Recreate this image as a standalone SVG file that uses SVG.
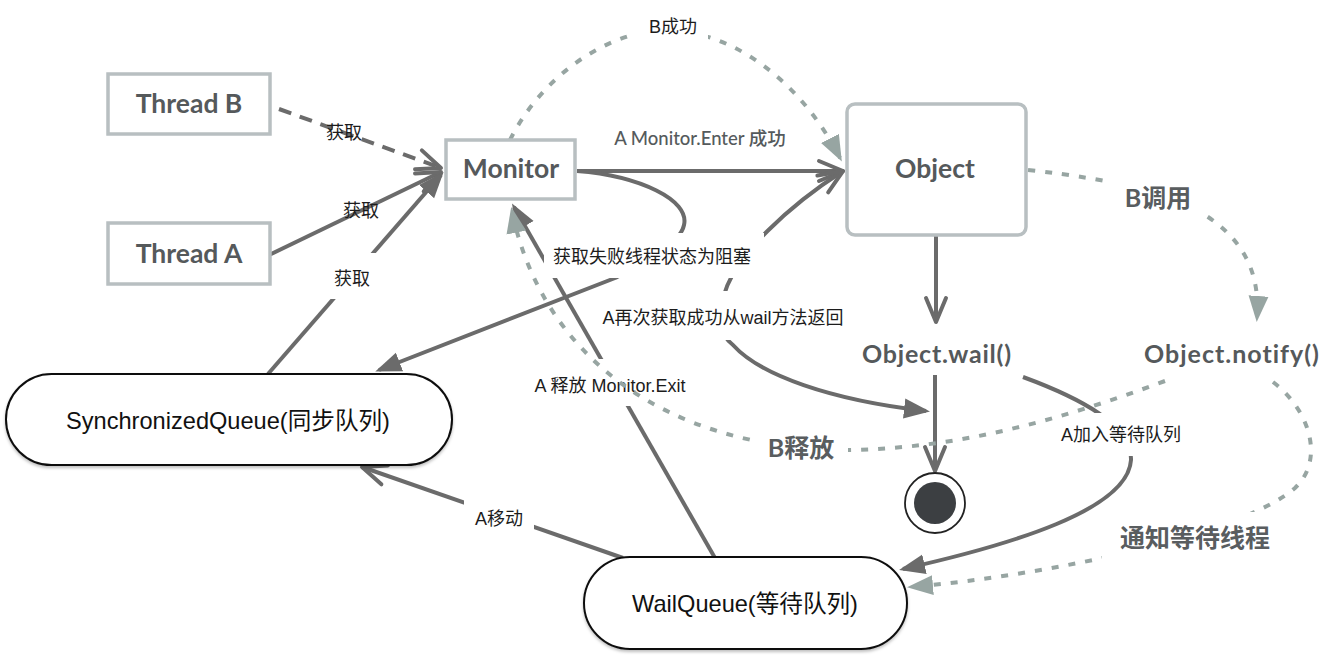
<svg xmlns="http://www.w3.org/2000/svg" width="1332" height="658" viewBox="0 0 1332 658">
<style>
.box{fill:#fff;stroke:#b8bfc1;stroke-width:3.5}
.ntxt{font-family:Lato,"Noto Sans CJK SC",sans-serif;font-weight:700;fill:#55595b;text-anchor:middle}
.stad{fill:#fff;stroke:#111;stroke-width:2}
.stxt{font-family:"Liberation Sans","Noto Sans CJK SC",sans-serif;font-size:23.6px;fill:#111;text-anchor:middle}
.ln{fill:none;stroke:#6b6b6b;stroke-width:4}
.tl{fill:none;stroke:#97a5a2;stroke-width:4;stroke-dasharray:7 10}
.lbl{font-family:"Liberation Sans","Noto Sans CJK SC",sans-serif;font-size:18px;fill:#1c1c1c;text-anchor:middle}
.glbl{font-family:Lato,"Noto Sans CJK SC",sans-serif;font-weight:700;font-size:25px;fill:#595d5f;text-anchor:middle}
.bg{fill:#fff}
</style>
<defs>
<marker id="vDark" viewBox="0 0 30 26" refX="27" refY="13" markerWidth="30" markerHeight="26" markerUnits="userSpaceOnUse" orient="auto">
<path d="M3,3 L27,13 L3,23" fill="none" stroke="#6b6b6b" stroke-width="4" stroke-linejoin="round" stroke-linecap="round"/>
</marker>
<marker id="vDarkS" viewBox="0 0 30 26" refX="27" refY="13" markerWidth="30" markerHeight="26" markerUnits="userSpaceOnUse" orient="auto-start-reverse">
<path d="M3,3 L27,13 L3,23" fill="none" stroke="#6b6b6b" stroke-width="4" stroke-linejoin="round" stroke-linecap="round"/>
</marker>
<marker id="fDark" viewBox="0 0 26 22" refX="22" refY="11" markerWidth="26" markerHeight="22" markerUnits="userSpaceOnUse" orient="auto">
<path d="M0,1 L26,11 L0,21 z" fill="#6b6b6b"/>
</marker>
<marker id="fTeal" viewBox="0 0 26 22" refX="22" refY="11" markerWidth="26" markerHeight="22" markerUnits="userSpaceOnUse" orient="auto">
<path d="M0,1 L26,11 L0,21 z" fill="#97a5a2"/>
</marker>
<filter id="sh" x="-10%" y="-20%" width="120%" height="150%">
<feDropShadow dx="0" dy="2" stdDeviation="1.5" flood-color="#000" flood-opacity="0.25"/>
</filter>
</defs>
<rect width="1332" height="658" fill="#fff"/>

<g id="connectors">
  <!-- Thread B -> Monitor -->
  <path class="ln" d="M279,109 L441,168" stroke-dasharray="13 9" marker-end="url(#vDark)"/>
  <text class="lbl" x="344" y="139">获取</text>
  <!-- Thread A -> Monitor -->
  <path class="ln" d="M269,255 L441,172" marker-end="url(#vDark)"/>
  <text class="lbl" x="361" y="217">获取</text>
  <!-- SynchronizedQueue -> Monitor -->
  <path class="ln" d="M268,374 L441,175" marker-end="url(#fDark)"/>
  <rect class="bg" x="326" y="253" width="53" height="46"/>
  <text class="lbl" x="352" y="285">获取</text>
  <!-- Monitor -> Object -->
  <path class="ln" d="M577,171 L843,171" marker-end="url(#vDark)"/>
  <text x="700" y="145" font-family="Lato,'Noto Sans CJK SC',sans-serif" font-weight="500" font-size="18.5" fill="#555a5c" text-anchor="middle">A Monitor.Enter 成功</text>
  <!-- Object -> Object.wail() -->
  <path class="ln" d="M936,236 L936,322" marker-end="url(#vDark)"/>
  <!-- Object.wail() -> end -->
  <path class="ln" d="M935,375 L935,471" marker-end="url(#vDark)"/>
  <!-- A再次获取成功 (Object <-> end) -->
  <path class="ln" d="M843,171 C790,205 735,255 724,295 C718,320 720,335 733,345 C760,375 830,400 926,411" marker-start="url(#vDarkS)" marker-end="url(#fDark)"/>
  <!-- Monitor -> SynchronizedQueue (获取失败) -->
  <path class="ln" d="M577,171 C640,176 690,200 684,225 C680,245 640,265 615,278 L379,370" marker-end="url(#fDark)"/>
  <!-- WailQueue -> Monitor -->
  <path class="ln" d="M715,558 L514,207" marker-end="url(#fDark)"/>
  <!-- WailQueue -> SynchronizedQueue -->
  <path class="ln" d="M623,558 L362,467" marker-end="url(#vDark)"/>
  <rect class="bg" x="464" y="498" width="70" height="40"/>
  <text class="lbl" x="499" y="525">A移动</text>
  <!-- Object.wail() -> WailQueue -->
  <path class="ln" d="M1023,377 C1080,398 1132,425 1131,460 C1128,510 1010,545 903,569" marker-end="url(#fDark)"/>
  <rect class="bg" x="1052" y="413" width="138" height="43"/>
  <text class="lbl" x="1121" y="441">A加入等待队列</text>
  <!-- labels with backgrounds -->
  <rect class="bg" x="544" y="233" width="220" height="45"/>
  <text class="lbl" x="652" y="263">获取失败线程状态为阻塞</text>
  <rect class="bg" x="594" y="291" width="258" height="49"/>
  <text class="lbl" x="723" y="324">A再次获取成功从wail方法返回</text>
  <rect class="bg" x="521" y="359" width="180" height="47"/>
  <text class="lbl" x="610" y="392">A 释放 Monitor.Exit</text>
  <!-- B成功 -->
  <path class="tl" d="M510,140 C540,80 600,35 660,30 C730,28 800,80 840,158" marker-end="url(#fTeal)"/>
  <rect class="bg" x="636" y="12" width="72" height="30"/>
  <text class="lbl" x="673" y="33">B成功</text>
  <!-- B调用 -->
  <path class="tl" d="M1028,170 C1120,180 1180,195 1215,222 C1245,245 1260,275 1257,318" marker-end="url(#fTeal)"/>
  <rect class="bg" x="1108" y="180" width="96" height="36"/>
  <text class="glbl" x="1158" y="207">B调用</text>
  <!-- 通知等待线程 -->
  <path class="tl" d="M1273,382 C1310,410 1325,460 1295,488 C1240,535 1050,575 911,587" marker-end="url(#fTeal)"/>
  <rect class="bg" x="1102" y="512" width="184" height="50"/>
  <text class="glbl" x="1195" y="547">通知等待线程</text>
  <!-- B释放 -->
  <path class="tl" d="M1165,381 C1060,420 960,448 850,450 C660,450 540,350 512,211" marker-end="url(#fTeal)"/>
  <rect class="bg" x="752" y="430" width="96" height="38"/>
  <text class="glbl" x="801" y="457">B释放</text>
</g>

<g id="thread-b">
  <rect class="box" x="108" y="74" width="162" height="60"/>
  <text class="ntxt" x="189" y="113" font-size="26.5">Thread B</text>
</g>
<g id="thread-a">
  <rect class="box" x="108" y="223" width="162" height="61"/>
  <text class="ntxt" x="189" y="263" font-size="26.5">Thread A</text>
</g>
<g id="monitor">
  <rect class="box" x="446" y="140" width="129" height="59"/>
  <text class="ntxt" x="511" y="178" font-size="26.5">Monitor</text>
</g>
<g id="object">
  <rect class="box" x="847" y="104" width="179" height="131" rx="8"/>
  <text class="ntxt" x="935" y="178" font-size="26.5">Object</text>
</g>
<g id="object-wail">
  <text class="ntxt" x="937" y="363" font-size="25" letter-spacing="0.8">Object.wail()</text>
</g>
<g id="object-notify">
  <text class="ntxt" x="1232" y="363" font-size="25" letter-spacing="1">Object.notify()</text>
</g>
<g id="end">
  <circle cx="935" cy="503" r="30" fill="#fff" stroke="#222" stroke-width="1.8"/>
  <circle cx="935" cy="503" r="21" fill="#3c3f42"/>
</g>
<g id="synchronized-queue">
  <rect class="stad" x="6" y="374" width="446" height="91" rx="45.5" filter="url(#sh)"/>
  <text class="stxt" x="228" y="429">SynchronizedQueue(同步队列)</text>
</g>
<g id="wail-queue">
  <rect class="stad" x="584" y="557" width="323" height="92" rx="46" filter="url(#sh)"/>
  <text class="stxt" x="745" y="612">WailQueue(等待队列)</text>
</g>
</svg>
